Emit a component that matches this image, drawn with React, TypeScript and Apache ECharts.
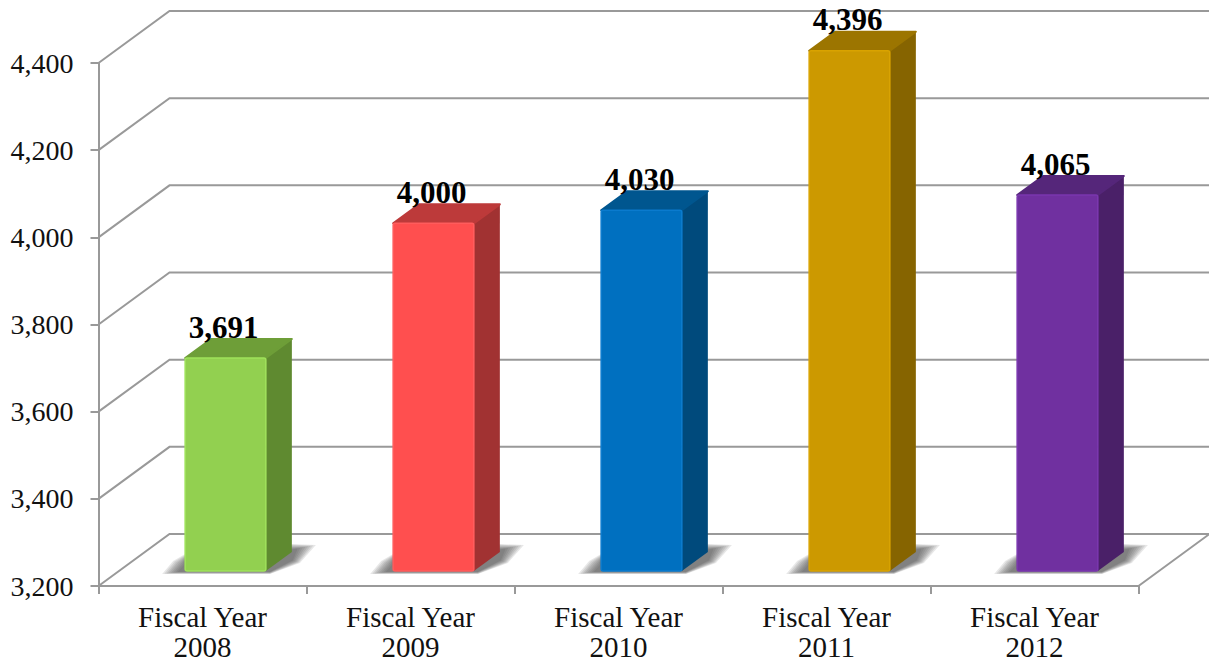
import React, { useEffect, useRef } from "react";
import * as echarts from "echarts";

const categories = ["Fiscal Year\n2008", "Fiscal Year\n2009", "Fiscal Year\n2010", "Fiscal Year\n2011", "Fiscal Year\n2012"];
const values = [3691, 4000, 4030, 4396, 4065];
const wallTicks = [3200, 3400, 3600, 3800, 4000, 4200, 4400];
const frontColors = ["#92D050", "#FF4F4F", "#0070C0", "#CC9900", "#7030A0"];
const edgeColors = ["#9FE25A", "#FF5C5C", "#0A7BCE", "#D9A300", "#7A36AE"];
const sideColors = ["#5F8A30", "#A13232", "#004A7C", "#866400", "#4A2068"];
const topColors = ["#6E9E38", "#BD3A3A", "#00568F", "#9C7500", "#55267A"];
const shadowSteps = [0, 1, 2, 3, 4, 5, 6, 7];

const FONT = '"Liberation Serif"';
const GRID = "#999999";
const DEPTH_X = 71;
const DEPTH_Y = 52;
const BAR_DX = 26;
const BAR_DY = 19;
const SHIFT_X = 23;
const SHIFT_Y_TOP = 14;
const SHIFT_Y_BASE = 15;

const renderWall = (params: any, api: any) => {
  const v = api.value(1);
  const y = api.coord([0, v])[1];
  const left = params.coordSys.x;
  const right = left + params.coordSys.width;
  const isFloor = v === wallTicks[0];
  const points = isFloor
    ? [[left, y], [left + DEPTH_X, y - DEPTH_Y], [right + DEPTH_X, y - DEPTH_Y], [right, y]]
    : [[left, y], [left + DEPTH_X, y - DEPTH_Y], [right + DEPTH_X, y - DEPTH_Y]];
  return {
    type: "polyline",
    shape: { points },
    style: { stroke: GRID, lineWidth: 2, fill: "none" },
    silent: true,
  };
};

const renderBar = (params: any, api: any) => {
  const i = params.dataIndex;
  const v = api.value(1);
  const top = api.coord([i, v]);
  const base = api.coord([i, wallTicks[0]]);
  const band = api.size([1, 0])[0];
  const w = band * 0.388;
  const x0 = top[0] + SHIFT_X - w / 2;
  const x1 = x0 + w;
  const yt = top[1] - SHIFT_Y_TOP;
  const yb = base[1] - SHIFT_Y_BASE;
  const shadowLayers = shadowSteps.map((s) => ({
    type: "polygon",
    shape: {
      points: [
        [x0 - 23 + s * 2.2, yb + 3 - s * 0.3],
        [x1 + 4, yb + 3 - s * 0.3],
        [x1 + BAR_DX + 8 - s, yb - 8 - s * 0.4],
        [x1 + BAR_DX + 24 - s * 2.6, yb - 26 + s * 0.5],
        [x1 + BAR_DX, yb - 27 + s * 0.8],
        [x0, yb - 17 + s * 0.9],
        [x0 - 12 + s * 1.5, yb - 10 + s * 0.6],
      ],
    },
    style: { fill: "rgba(70,70,70,0.13)" },
  }));
  return {
    type: "group",
    children: [
      ...shadowLayers,
      {
        type: "polygon",
        shape: { points: [[x1, yt], [x1 + BAR_DX, yt - BAR_DY], [x1 + BAR_DX, yb - BAR_DY], [x1, yb]] },
        style: { fill: sideColors[i] },
      },
      {
        type: "polygon",
        shape: { points: [[x0, yt], [x0 + BAR_DX, yt - BAR_DY], [x1 + BAR_DX, yt - BAR_DY], [x1, yt]] },
        style: { fill: topColors[i], stroke: topColors[i], lineWidth: 2, lineJoin: "round" },
      },
      {
        type: "rect",
        shape: { x: x0, y: yt, width: w, height: yb - yt, r: 2 },
        style: { fill: frontColors[i], stroke: edgeColors[i], lineWidth: 1.5 },
      },
      {
        type: "text",
        style: {
          text: echarts.format.addCommas(v),
          x: (x0 + x1) / 2 - 2,
          y: yt - 31,
          fill: "#000000",
          font: `bold 31px ${FONT}`,
          textAlign: "center",
          textVerticalAlign: "middle",
        },
      },
    ],
  };
};

export default function App() {
  const ref = useRef<HTMLDivElement>(null);
  useEffect(() => {
    const chart = echarts.init(ref.current!, undefined, { renderer: "svg" });
    chart.setOption({
      animation: false,
      backgroundColor: "#ffffff",
      grid: { left: 98.5, right: 70.5, top: 63, bottom: 76, outerBoundsMode: "none" },
      xAxis: {
        type: "category",
        data: categories,
        axisLine: { show: true, lineStyle: { color: GRID, width: 2 } },
        axisTick: { show: true, length: 8, lineStyle: { color: GRID, width: 2 } },
        axisLabel: { color: "#111111", fontFamily: FONT, fontSize: 29, lineHeight: 30, margin: 16, interval: 0 },
      },
      yAxis: {
        type: "value",
        min: 3200,
        max: 4400,
        interval: 200,
        splitLine: { show: false },
        axisLine: { show: true, lineStyle: { color: GRID, width: 2 } },
        axisTick: { show: true, length: 8, lineStyle: { color: GRID, width: 2 } },
        axisLabel: { color: "#111111", fontFamily: FONT, fontSize: 28, margin: 25 },
      },
      series: [
        {
          type: "custom",
          coordinateSystem: "cartesian2d",
          renderItem: renderWall,
          clip: false,
          silent: true,
          z: 1,
          encode: { x: 0, y: 1 },
          data: wallTicks.map((t) => [0, t]),
        },
        {
          type: "custom",
          coordinateSystem: "cartesian2d",
          renderItem: renderBar,
          clip: false,
          silent: true,
          z: 3,
          encode: { x: 0, y: 1 },
          data: values.map((v, i) => [i, v]),
        },
      ],
    });
    return () => chart.dispose();
  }, []);
  return <div ref={ref} style={{ position: "absolute", left: 0, top: 0, width: 1209, height: 662 }} />;
}
